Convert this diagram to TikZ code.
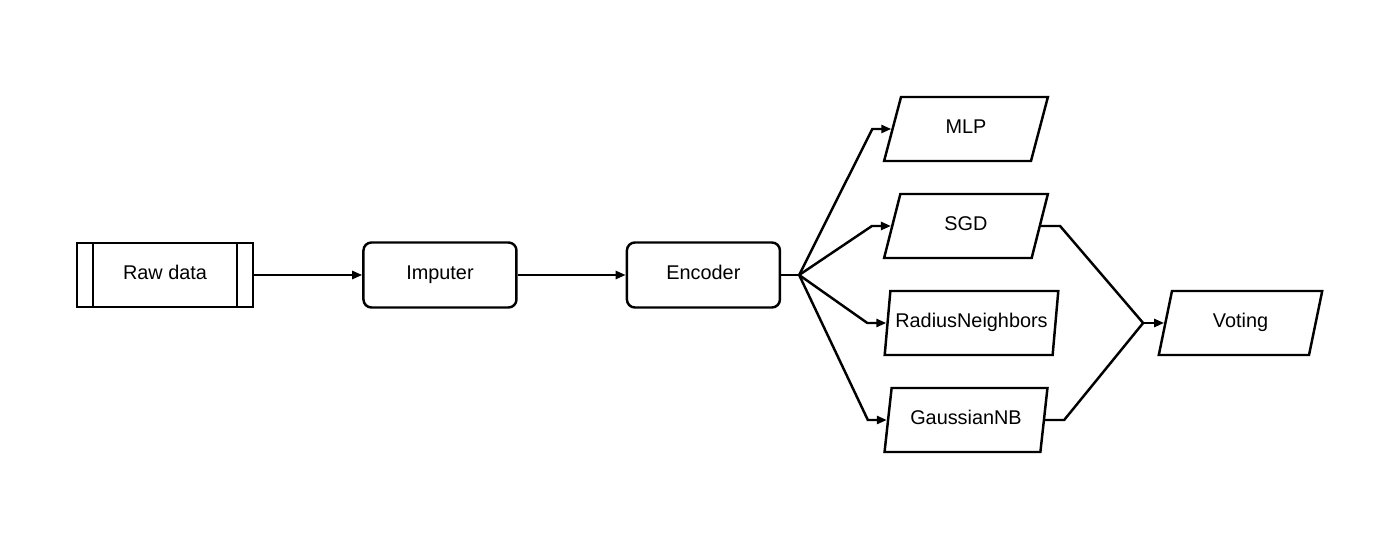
\documentclass[tikz,border=0pt]{standalone}
\usepackage{fontspec}
\setmainfont{Liberation Sans}
\usetikzlibrary{positioning, arrows.meta, shapes.geometric}
\tikzset{
	>={Triangle[length=2mm,width=1.6mm]},
	node distance=2.16cm,
	align=center,
	every node/.style={text height=8pt, text depth=2.5pt},
	data/.style={draw, minimum width=3.52cm, minimum height=1.28cm,
		path picture={
			\draw ([xshift=0.32cm]path picture bounding box.north west) -- ([xshift=0.32cm]path picture bounding box.south west);
			\draw ([xshift=-0.32cm]path picture bounding box.north east) -- ([xshift=-0.32cm]path picture bounding box.south east);
		}},
	process/.style={draw, rounded corners=0.16cm, minimum width=3.06cm, minimum height=1.3cm},
	model/.style={draw, trapezium, trapezium left angle=80, trapezium right angle=100,
		trapezium stretches=true, minimum width=3.28cm, minimum height=1.28cm, inner xsep=0pt}
}

\begin{document}
\begin{tikzpicture}[line width=1.4pt, font=\fontsize{11.3}{13.6}\selectfont]
	\useasboundingbox (0,0) rectangle (28,11);
	\node[data] (raw) at (3.3,5.5) {Raw data};
	\node[process, right=of raw] (imp) {Imputer};
	\node[process, right=of imp] (enc) {Encoder};
	
	\node[model] (mlp) at (19.32,8.42) {MLP};
	\node[model] (sgd) at (19.32,6.48) {SGD};
	\node[model, minimum width=3.5cm] (rad) at (19.43,4.54) {RadiusNeighbors};
	\node[model] (gnb) at (19.32,2.6) {GaussianNB};
	\node[model] (vote) at (24.81,4.54) {Voting};
	
	\draw[->] (raw) -- (imp);
	\draw[->] (imp) -- (enc);
	
	\coordinate[right=0.36cm of enc.east] (fan);
	\draw (enc.east) -- (fan);
	\foreach \m in {mlp,sgd,rad,gnb}
		\draw[->] (fan) -- ([xshift=-0.38cm]\m.west) -- (\m.west);
	
	\coordinate[left=0.42cm of vote.west] (join);
	\foreach \m in {sgd,gnb}
		\draw (\m.east) -- ([xshift=0.38cm]\m.east) -- (join);
	\draw[->] (join) -- (vote.west);
\end{tikzpicture}
\end{document}
